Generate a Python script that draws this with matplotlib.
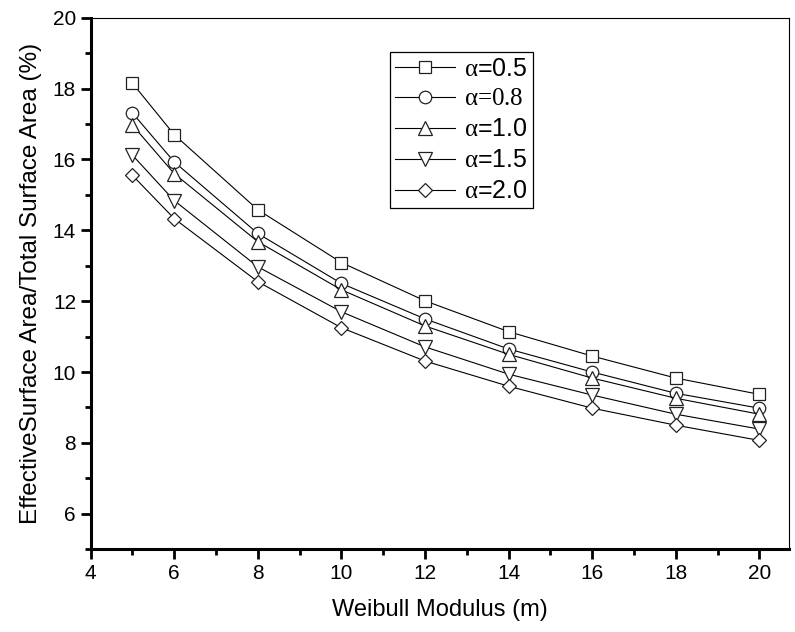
import numpy as np
import matplotlib
matplotlib.use('Agg')
import matplotlib.pyplot as plt
from matplotlib.ticker import MultipleLocator

plt.rcParams['font.family'] = ['Liberation Sans', 'DejaVu Sans']
plt.rcParams['mathtext.fontset'] = 'custom'
plt.rcParams['mathtext.rm'] = 'Liberation Serif'
plt.rcParams['mathtext.it'] = 'Liberation Serif'

# weibull modulus
m = [5, 6, 8, 10, 12, 14, 16, 18, 20]

# effective / total surface area (%)
a05 = [18.15, 16.70, 14.58, 13.09, 12.01, 11.14, 10.45, 9.83, 9.37]
a08 = [17.31, 15.93, 13.91, 12.50, 11.50, 10.65, 10.00, 9.40, 8.98]
a10 = [16.97, 15.60, 13.68, 12.32, 11.30, 10.50, 9.83, 9.26, 8.81]
a15 = [16.12, 14.84, 12.97, 11.70, 10.71, 9.94, 9.35, 8.81, 8.39]
a20 = [15.55, 14.33, 12.55, 11.25, 10.31, 9.60, 8.98, 8.50, 8.07]

labels = [r'$\alpha$=0.5', r'$\alpha$=0.8', r'$\alpha$=1.0',
          r'$\alpha$=1.5', r'$\alpha$=2.0']
markers = ['s', 'o', '^', 'v', 'D']
sizes = [8, 9, 10, 10, 7.5]

fig = plt.figure(figsize=(7.95, 6.32), dpi=100)
ax = fig.add_axes([0.114, 0.131, 0.878, 0.841])

for y, lab, mk, ms in zip([a05, a08, a10, a15, a20], labels, markers, sizes):
    ax.plot(m, y, color='black', lw=0.8, marker=mk, ms=ms, mfc='white',
            mec='#222222', mew=0.9, label=lab)

ax.set_xlim(4, 20.7)
ax.set_ylim(5, 20)
ax.xaxis.set_major_locator(MultipleLocator(2))
ax.xaxis.set_minor_locator(MultipleLocator(1))
ax.yaxis.set_major_locator(MultipleLocator(2))
ax.yaxis.set_minor_locator(MultipleLocator(1))
ax.set_yticks([6, 8, 10, 12, 14, 16, 18, 20])

for s in ['left', 'bottom']:
    ax.spines[s].set_linewidth(2.2)
for s in ['top', 'right']:
    ax.spines[s].set_linewidth(0.8)
ax.tick_params(which='major', direction='out', length=7, width=2, labelsize=15)
ax.tick_params(which='minor', direction='out', length=4, width=2)

ax.set_xlabel('Weibull Modulus (m)', fontsize=17, labelpad=12)
ax.set_ylabel('EffectiveSurface Area/Total Surface Area (%)', fontsize=17.5, labelpad=8)

leg = ax.legend(loc='upper left', bbox_to_anchor=(0.491, 0.918), bbox_transform=fig.transFigure,
                borderaxespad=0, fontsize=18, handlelength=2.4, handletextpad=0.35,
                labelspacing=0.28, borderpad=0.2, fancybox=False, edgecolor='black',
                framealpha=1)
leg.get_frame().set_linewidth(0.9)
# the 0.8 entry is typeset all in serif in the original
leg.get_texts()[1].set_family('Liberation Serif')

fig.savefig('out.png', dpi=100)
